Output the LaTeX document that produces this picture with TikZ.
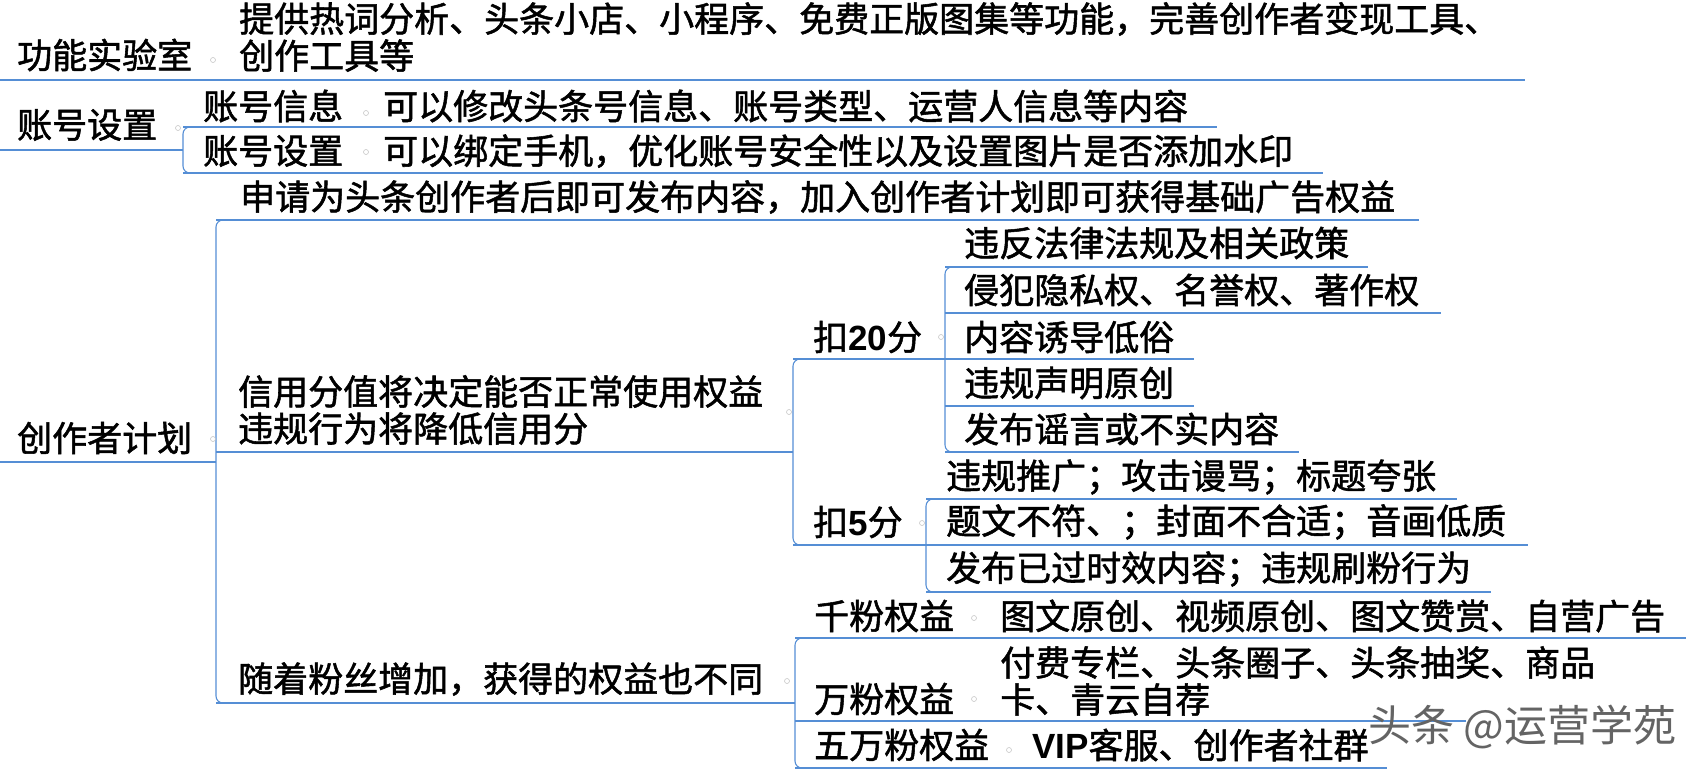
\documentclass[tikz,border=0pt]{standalone}
\usepackage{fontspec}
\setmainfont{Noto Sans CJK SC}[UprightFeatures={FakeBold=1.5}]
\newfontfamily\wmfont{Noto Sans CJK SC}
\newfontfamily\latb{Liberation Sans}
\definecolor{lineblue}{RGB}{85,142,213}
\definecolor{wmgray}{RGB}{100,100,100}
\tikzset{
  lbl/.style={anchor=west, inner sep=0pt, text=black, font=\fontsize{35}{37}\selectfont},
  ul/.style={draw=lineblue, line width=2pt},
  brk/.style={draw=lineblue, line width=1.1pt, rounded corners=7pt},
  knob/.style={circle, draw=gray!45, line width=0.6pt, minimum size=5pt, inner sep=0pt},
}
\begin{document}
\begin{tikzpicture}[x=1pt,y=-1pt]
\useasboundingbox (0,0) rectangle (1702,772);

% ---------- texts ----------
\node[lbl] (n1) at (17,55) {功能实验室};
\node[lbl,align=left] (n1a) at (239,37) {提供热词分析、头条小店、小程序、免费正版图集等功能，完善创作者变现工具、\\创作工具等};

\node[lbl] (n2) at (17,125) {账号设置};
\node[lbl] (n2a) at (203,106) {账号信息};
\node[lbl] (n2a1) at (383,106) {可以修改头条号信息、账号类型、运营人信息等内容};
\node[lbl] (n2b) at (203,151) {账号设置};
\node[lbl] (n2b1) at (383,151) {可以绑定手机，优化账号安全性以及设置图片是否添加水印};

\node[lbl] (n3) at (17,438) {创作者计划};
\node[lbl] (n3a) at (240,197) {申请为头条创作者后即可发布内容，加入创作者计划即可获得基础广告权益};
\node[lbl,align=left] (n3b) at (238,410) {信用分值将决定能否正常使用权益\\违规行为将降低信用分};
\node[lbl] (n3b1) at (813,337) {扣{\latb\bfseries 20}分};
\node[lbl] (v1) at (964,243) {违反法律法规及相关政策};
\node[lbl] (v2) at (964,290) {侵犯隐私权、名誉权、著作权};
\node[lbl] (v3) at (964,337) {内容诱导低俗};
\node[lbl] (v4) at (964,383) {违规声明原创};
\node[lbl] (v5) at (964,429) {发布谣言或不实内容};
\node[lbl] (n3b2) at (813,522) {扣{\latb\bfseries 5}分};
\node[lbl] (w1) at (946,477) {违规推广；攻击谩骂；标题夸张};
\node[lbl] (w2) at (946,522) {题文不符、；封面不合适；音画低质};
\node[lbl] (w3) at (946,569) {发布已过时效内容；违规刷粉行为};
\node[lbl] (n3c) at (238,679) {随着粉丝增加，获得的权益也不同};
\node[lbl] (f1) at (814,616) {千粉权益};
\node[lbl] (f1a) at (1000,616) {图文原创、视频原创、图文赞赏、自营广告};
\node[lbl] (f2) at (814,699) {万粉权益};
\node[lbl,align=left] (f2a) at (1000,681) {付费专栏、头条圈子、头条抽奖、商品\\卡、青云自荐};
\node[lbl] (f3) at (814,745) {五万粉权益};
\node[lbl] (f3a) at (1032,745) {{\latb\bfseries VIP}客服、创作者社群};

% ---------- underline coordinates ----------
\coordinate (a0) at (0,80);    \coordinate (a1) at (1525,80);
\coordinate (b0) at (0,150);   \coordinate (bj) at (183,150);
\coordinate (b1s) at (183,127); \coordinate (b1e) at (1217,127);
\coordinate (b2s) at (183,173); \coordinate (b2e) at (1323,173);
\coordinate (c0) at (0,462);   \coordinate (cj) at (216,462);
\coordinate (c1s) at (216,220); \coordinate (c1e) at (1419,220);
\coordinate (c2s) at (216,452); \coordinate (c2e) at (793,452);
\coordinate (c3s) at (216,703); \coordinate (c3e) at (795,703);
\coordinate (d1s) at (793,359); \coordinate (d1e) at (945,359);
\coordinate (d2s) at (793,545); \coordinate (d2e) at (926,545);
\coordinate (v1s) at (945,267); \coordinate (v1e) at (1368,267);
\coordinate (v2s) at (945,313); \coordinate (v2e) at (1441,313);
\coordinate (v3s) at (945,359); \coordinate (v3e) at (1194,359);
\coordinate (v4s) at (945,406); \coordinate (v4e) at (1194,406);
\coordinate (v5s) at (945,452); \coordinate (v5e) at (1299,452);
\coordinate (w1s) at (926,499); \coordinate (w1e) at (1457,499);
\coordinate (w2s) at (926,545); \coordinate (w2e) at (1528,545);
\coordinate (w3s) at (926,592); \coordinate (w3e) at (1491,592);
\coordinate (f1s) at (795,638); \coordinate (f1e) at (1686,638);
\coordinate (f2s) at (795,721); \coordinate (f2e) at (1466,721);
\coordinate (f3s) at (795,768); \coordinate (f3e) at (1387,768);

% ---------- underlines ----------
\draw[ul] (a0) -- (a1);
\draw[ul] (b0) -- (bj);
\draw[ul] (b1s) -- (b1e);
\draw[ul] (b2s) -- (b2e);
\draw[ul] (c0) -- (cj);
\draw[ul] (c1s) -- (c1e);
\draw[ul] (c2s) -- (c2e);
\draw[ul] (c3s) -- (c3e);
\draw[ul] (d1s) -- (d1e);
\draw[ul] (d2s) -- (d2e);
\foreach \k in {v1,v2,v3,v4,v5,w1,w2,w3,f1,f2,f3}{\draw[ul] (\k s) -- (\k e);}

% ---------- brackets ----------
\draw[brk] ([xshift=12pt]b1s) -- (b1s) -- (b2s) -- ([xshift=12pt]b2s);
\draw[brk] ([xshift=12pt]c1s) -- (c1s) -- (c3s) -- ([xshift=12pt]c3s);
\draw[brk] ([xshift=12pt]d1s) -- (d1s) -- (d2s) -- ([xshift=12pt]d2s);
\draw[brk] ([xshift=12pt]v1s) -- (v1s) -- (v5s) -- ([xshift=12pt]v5s);
\draw[brk] ([xshift=12pt]w1s) -- (w1s) -- (w3s) -- ([xshift=12pt]w3s);
\draw[brk] ([xshift=12pt]f1s) -- (f1s) -- (f3s) -- ([xshift=12pt]f3s);

% ---------- collapse knobs ----------
\node[knob] (k1) at (213,60) {};
\node[knob] (k2) at (178,128) {};
\node[knob] (k3) at (366,113) {};
\node[knob] (k4) at (366,152) {};
\node[knob] (k5) at (213,439) {};
\node[knob] (k6) at (789,412) {};
\node[knob] (k7) at (941,337) {};
\node[knob] (k8) at (922,523) {};
\node[knob] (k9) at (787,681) {};
\node[knob] (k10) at (974,618) {};
\node[knob] (k11) at (974,699) {};
\node[knob] (k12) at (1009,750) {};

% ---------- watermark ----------
\node[anchor=west, inner sep=0pt, text=wmgray, font=\wmfont\fontsize{43}{43}\selectfont] (wm) at (1368,727) {头条 @运营学苑};
\end{tikzpicture}
\end{document}
